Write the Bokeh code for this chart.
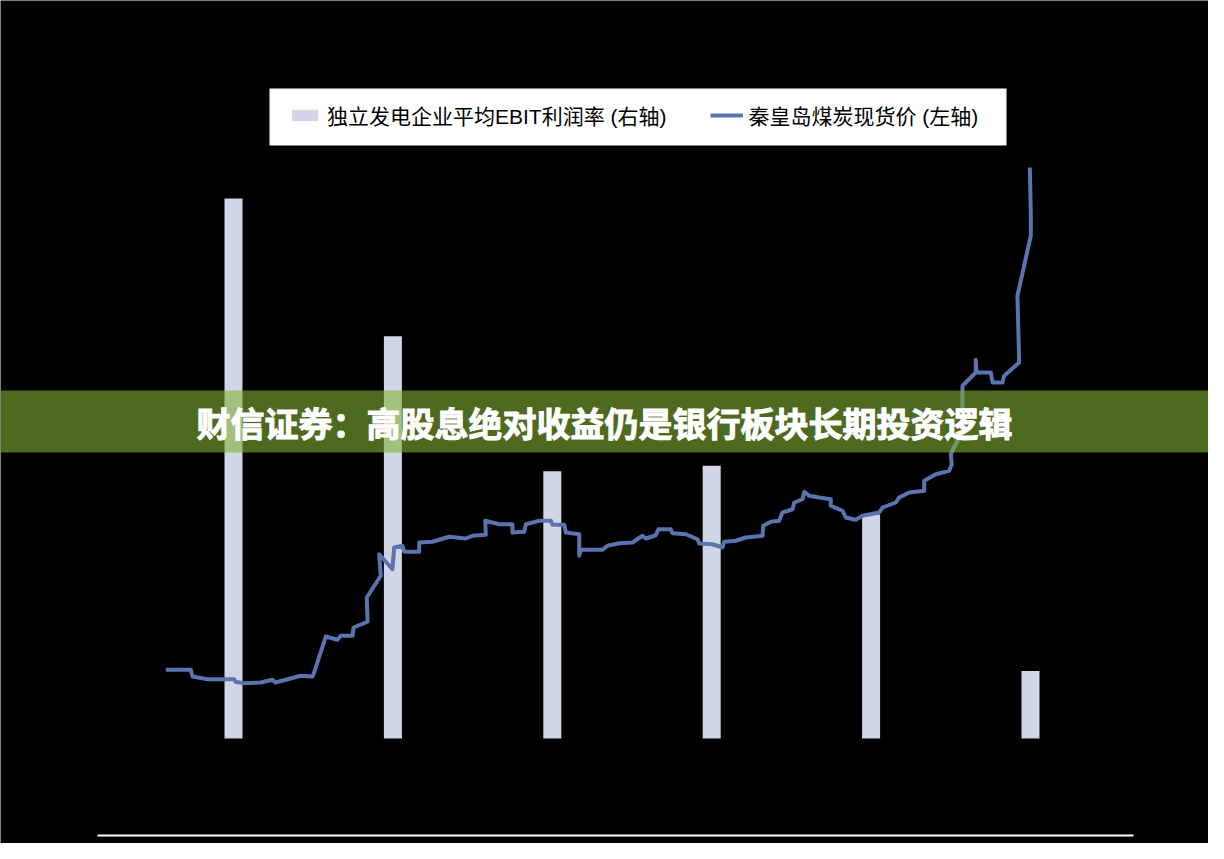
from bokeh.plotting import figure
from bokeh.models import Range1d, Legend, LegendItem, BoxAnnotation, Label
from bokeh.embed import file_html
from bokeh.resources import INLINE

# ---------------- data ----------------
years = [2016, 2017, 2018, 2019, 2020, 2021]
ebit_margin = [20.0, 14.9, 9.9, 10.1, 8.3, 2.5]   # 独立发电企业平均EBIT利润率 (%), right axis

coal_x = [
    2015.575, 2015.732, 2015.743, 2015.837, 2016.004, 2016.013, 2016.067, 2016.169, 2016.245, 2016.263,
    2016.358, 2016.420, 2016.496, 2016.506, 2016.579, 2016.652, 2016.673, 2016.747, 2016.753, 2016.841,
    2016.836, 2016.924, 2016.914, 2016.997, 2017.008, 2017.060, 2017.071, 2017.165, 2017.165, 2017.248,
    2017.353, 2017.457, 2017.499, 2017.583, 2017.579, 2017.667, 2017.750, 2017.750, 2017.824, 2017.834,
    2017.918, 2017.991, 2018.001, 2018.075, 2018.085, 2018.169, 2018.169, 2018.179, 2018.315, 2018.346,
    2018.420, 2018.503, 2018.566, 2018.587, 2018.649, 2018.666, 2018.743, 2018.754, 2018.838, 2018.911,
    2018.922, 2019.005, 2019.068, 2019.078, 2019.151, 2019.214, 2019.319, 2019.323, 2019.371, 2019.423,
    2019.444, 2019.507, 2019.518, 2019.570, 2019.581, 2019.612, 2019.674, 2019.747, 2019.747, 2019.821,
    2019.841, 2019.904, 2019.946, 2020.051, 2020.072, 2020.155, 2020.176, 2020.239, 2020.333, 2020.333,
    2020.406, 2020.490, 2020.506, 2020.500, 2020.567, 2020.573, 2020.573, 2020.657, 2020.657, 2020.661,
    2020.751, 2020.762, 2020.824, 2020.835, 2020.929, 2020.918, 2020.960, 2021.002, 2021.002, 2020.996,
]
coal_price = [
    451, 451, 424, 413, 413, 403, 397, 400, 411, 400,
    416, 427, 424, 440, 584, 571, 587, 587, 620, 643,
    740, 827, 913, 853, 940, 947, 923, 923, 960, 963,
    983, 976, 987, 991, 1047, 1033, 1033, 1000, 1003, 1033,
    1047, 1047, 1031, 1031, 1000, 993, 907, 931, 931, 947,
    957, 960, 987, 976, 989, 1013, 1013, 997, 993, 973,
    956, 953, 940, 963, 967, 980, 987, 1027, 1043, 1047,
    1080, 1093, 1120, 1133, 1163, 1147, 1140, 1133, 1107, 1087,
    1060, 1051, 1067, 1080, 1100, 1120, 1140, 1160, 1167, 1207,
    1233, 1247, 1273, 1313, 1400, 1480, 1587, 1640, 1691, 1640,
    1640, 1600, 1600, 1627, 1680, 1947, 2067, 2187, 2273, 2460,
]

bar_label = "独立发电企业平均EBIT利润率 (右轴)"
line_label = "秦皇岛煤炭现货价 (左轴)"
banner_text = "财信证券：高股息绝对收益仍是银行板块长期投资逻辑"

# ---------------- layout helpers (page pixel -> data) ----------------
W, H = 1208, 843
def fx(px):  # page x -> year
    return 2016 + (px - 241) / 159.4
def fy(py):  # page y -> left axis (price)
    return 400 + (690 - py) * 4.0
def gy(py):  # page y -> right axis (%)
    return (746 - py) / 27.0

p = figure(width=W, height=H, output_backend="svg", toolbar_location=None,
           x_axis_type=None, y_axis_type=None, min_border=0,
           background_fill_color="black", border_fill_color="black",
           outline_line_color=None,
           x_range=Range1d(fx(8), fx(8 + W)), y_range=Range1d(fy(8 + H), fy(8)))
p.extra_y_ranges = {"right": Range1d(gy(8 + H), gy(8))}

bars = p.vbar(x=years, top=ebit_margin, bottom=0, width=0.113, y_range_name="right",
              fill_color="#D0D6E6", line_color=None)
line = p.line(coal_x, coal_price, line_color="#5B73AE", line_width=4, line_join="round")

# bottom rule
p.segment(x0=[fx(105)], y0=[fy(843)], x1=[fx(1141)], y1=[fy(843)], line_color="white", line_width=2)

# legend box (white panel) + legend contents
p.add_layout(BoxAnnotation(left=fx(277), right=fx(1014), top=fy(96), bottom=fy(153),
                           fill_color="white", fill_alpha=1.0, line_color=None))
legend = Legend(items=[LegendItem(label=bar_label, renderers=[bars]),
                       LegendItem(label=line_label, renderers=[line])],
                orientation="horizontal", location=(288, 713),
                background_fill_alpha=0.0, border_line_color=None,
                padding=0, spacing=43, label_standoff=6,
                glyph_width=33, glyph_height=14, label_height=21,
                label_text_font="'Liberation Sans', 'Noto Sans CJK SC'",
                label_text_font_size="21px", label_text_color="black")
p.add_layout(legend)

banner = BoxAnnotation(bottom=fy(460), top=fy(398), fill_color="#82B134", fill_alpha=0.6,
                       line_color=None)
p.add_layout(banner)
p.add_layout(Label(x=fx(612), y=fy(430), text=banner_text, text_align="center",
                   text_baseline="middle", text_color="white", text_font_size="34px",
                   text_font_style="bold", text_font="Noto Sans CJK SC",
                   text_outline_color="white"))

open("out.html", "w").write(file_html(p, INLINE))
